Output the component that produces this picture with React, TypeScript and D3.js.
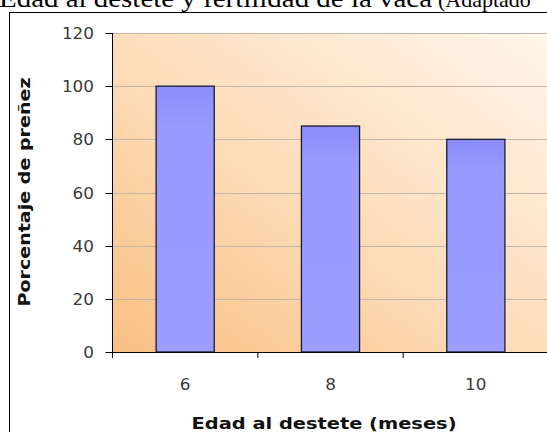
import React from "react";
import * as d3 from "d3";

const categories = ["6", "8", "10"];
const values = [100, 85, 80];
const yTicks = [0, 20, 40, 60, 80, 100, 120];
const title = "Edad al destete y fertilidad de la vaca";
const titleNote = "(Adaptado";
const xTitle = "Edad al destete (meses)";
const yTitle = "Porcentaje de preñez";

const W = 547;
const H = 432;
const plotLeft = 112.5;
const plotRight = 548.5;
const plotTop = 33;
const plotBottom = 352;

export default function App() {
  const y = d3.scaleLinear().domain([0, 120]).range([plotBottom, plotTop]);
  const x = d3
    .scaleBand<string>()
    .domain(categories)
    .range([plotLeft, plotRight])
    .paddingInner(0.6)
    .paddingOuter(0.3);
  const step = x.step();
  const bounds = categories.map((c) => (x(c) as number) - step * 0.3);
  bounds.push(plotRight);
  const font = "'DejaVu Sans', Verdana, sans-serif";

  return (
    <svg
      width={W}
      height={H}
      style={{ position: "absolute", left: 0, top: 0, background: "#fff" }}
    >
      <defs>
        <linearGradient id="bg" x1="0" y1="1" x2="1" y2="0">
          <stop offset="0" stopColor="#f9bf82" />
          <stop offset="0.45" stopColor="#fcdcb8" />
          <stop offset="1" stopColor="#fff6ec" />
        </linearGradient>
        <linearGradient id="bar" x1="0" y1="0" x2="0" y2="1">
          <stop offset="0" stopColor="#8c8cfb" />
          <stop offset="0.15" stopColor="#9999ff" />
          <stop offset="1" stopColor="#9d9dff" />
        </linearGradient>
      </defs>
      <text
        x={-1}
        y={7}
        fontFamily="'Liberation Serif', 'Times New Roman', serif"
        fontSize={26}
        textLength={433}
        lengthAdjust="spacingAndGlyphs"
        fill="#000"
      >
        {title}
      </text>
      <text
        x={438}
        y={7}
        fontFamily="'Liberation Serif', 'Times New Roman', serif"
        fontSize={22}
        fill="#000"
      >
        {titleNote}
      </text>
      <rect x={9.5} y={12.5} width={600} height={500} fill="#fff" stroke="#000" strokeWidth={1} />
      <rect
        x={plotLeft}
        y={plotTop}
        width={plotRight - plotLeft + 10}
        height={plotBottom - plotTop}
        fill="url(#bg)"
      />
      {yTicks
        .filter((t) => t > 0)
        .map((t) => (
          <line
            key={"g" + t}
            x1={plotLeft}
            x2={W}
            y1={Math.round(y(t)) + 0.5}
            y2={Math.round(y(t)) + 0.5}
            stroke="#c2b6aa"
            strokeWidth={1}
          />
        ))}
      {categories.map((c, i) => (
        <rect
          key={c}
          x={x(c)}
          y={y(values[i])}
          width={x.bandwidth()}
          height={plotBottom - y(values[i])}
          fill="url(#bar)"
          stroke="#1a1a33"
          strokeWidth={1.3}
        />
      ))}
      <line x1={plotLeft} x2={plotLeft} y1={plotTop} y2={plotBottom} stroke="#000" strokeWidth={1} />
      <line x1={plotLeft} x2={W} y1={plotBottom + 0.5} y2={plotBottom + 0.5} stroke="#000" strokeWidth={1} />
      {yTicks.map((t) => (
        <g key={"y" + t}>
          <line
            x1={plotLeft - 7}
            x2={plotLeft}
            y1={Math.round(y(t)) + 0.5}
            y2={Math.round(y(t)) + 0.5}
            stroke="#000"
          />
          <text
            x={94}
            y={y(t) + 6}
            textAnchor="end"
            fontFamily={font}
            fontSize={16}
            textLength={String(t).length * 10.7}
            lengthAdjust="spacingAndGlyphs"
            fill="#3a3a3a"
          >
            {t}
          </text>
        </g>
      ))}
      {bounds.map((b, i) => (
        <line key={"xt" + i} x1={b} x2={b} y1={plotBottom} y2={plotBottom + 6} stroke="#000" />
      ))}
      {categories.map((c) => (
        <text
          key={"xl" + c}
          x={(x(c) as number) + x.bandwidth() / 2}
          y={390}
          textAnchor="middle"
          fontFamily={font}
          fontSize={16}
          textLength={c.length * 10.7}
          lengthAdjust="spacingAndGlyphs"
          fill="#3a3a3a"
        >
          {c}
        </text>
      ))}
      <text
        x={324}
        y={429}
        textAnchor="middle"
        fontFamily={font}
        fontSize={16}
        fontWeight="bold"
        textLength={265}
        lengthAdjust="spacingAndGlyphs"
        fill="#111"
      >
        {xTitle}
      </text>
      <text
        transform={`translate(30,192) rotate(-90)`}
        textAnchor="middle"
        fontFamily={font}
        fontSize={16}
        fontWeight="bold"
        textLength={229}
        lengthAdjust="spacingAndGlyphs"
        fill="#111"
      >
        {yTitle}
      </text>
    </svg>
  );
}
